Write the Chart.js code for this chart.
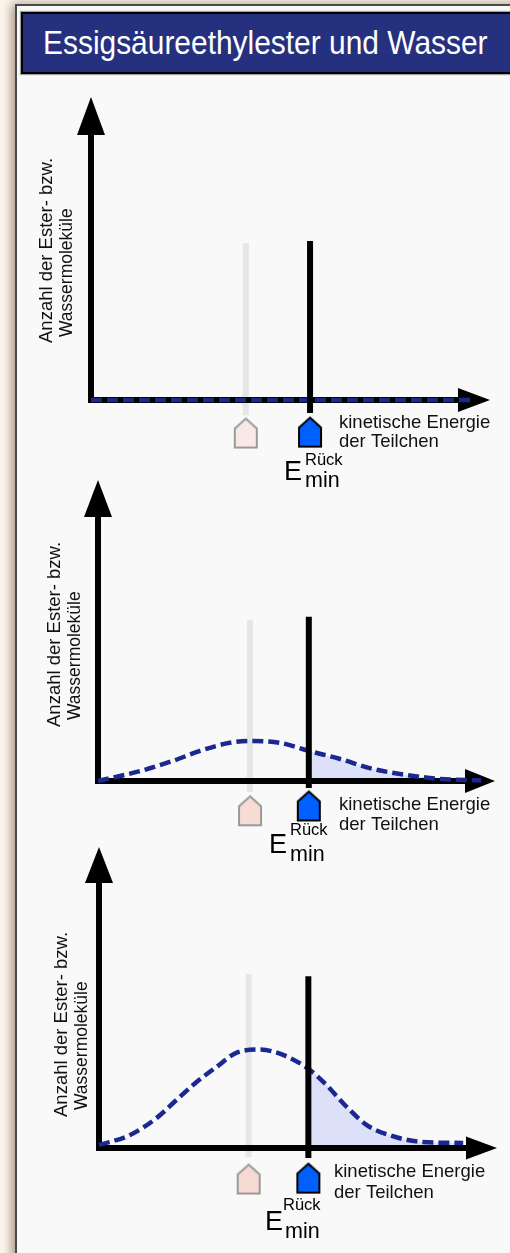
<!DOCTYPE html>
<html>
<head>
<meta charset="utf-8">
<script src="https://cdn.jsdelivr.net/npm/chart.js@4.4.1/dist/chart.umd.min.js"></script>
<style>
  html, body { margin: 0; padding: 0; overflow: hidden; }
  body { width: 510px; height: 1253px; background: #fdf5ec; position: relative;
         font-family: "Liberation Sans", Arial, sans-serif; }
  #panel { position: absolute; left: 15px; top: 4px; width: 600px; height: 1300px; background: #f9f9f9;
           border-left: 2px solid #4a4a4a; border-top: 2px solid #4a4a4a;
           box-shadow: -3px 0 10px rgba(70, 45, 20, 0.5); }
  #title { position: absolute; left: 21px; top: 12px; width: 560px; height: 58px; background: #25317f;
           border: 2px solid #000; box-shadow: 0 0 1px 1px rgba(0, 0, 0, 0.35); }
  #title span { position: absolute; left: 20px; top: 11px; font-size: 34px; line-height: 34px; color: #fff;
                white-space: nowrap; transform: scaleX(0.88); transform-origin: 0 0; }
  canvas { position: absolute; left: 0; top: 0; }
</style>
</head>
<body>
<div id="panel"></div>
<div id="title"><span>Essigsäureethylester und Wasser</span></div>
<canvas id="c1" width="510" height="1253"></canvas>
<canvas id="c2" width="510" height="1253"></canvas>
<canvas id="c3" width="510" height="1253"></canvas>
<script>
// x = kinetische Energie (0 = y-axis, 100 = arrow tip), y = Anzahl (0 = x-axis, 100 = arrow tip)
const energy1 = [0, 95.7];
const count1 = [0, 0];

const energy2 = [0, 10.6, 18.9, 25.7, 33.2, 39, 45.8, 53.1, 61, 69.3, 77.8, 86.1, 96.5];
const count2 = [0, 3.3, 6.7, 10, 12.7, 13.3, 12.7, 10, 7.3, 4, 2, 0.7, 0.2];

const energy3 = [0, 7.8, 14.5, 19.5, 24.6, 29.6, 34.6, 40.4, 46.1, 52.6, 57.1, 62.2, 67.2, 72.9, 81.2, 91.5];
const count3 = [1, 4.3, 10, 16, 22, 27, 31.7, 32.7, 31, 26.3, 21, 13.7, 7.7, 4.3, 2, 1.7];

// threshold energies: faint one (Hin) and E_min Rück, per diagram
const eMinHin = [38.8, 38.3, 37.6];
const eMinRueck = [54.9, 53.1, 52.6];

const yTitle = ['Anzahl der Ester- bzw.', 'Wassermoleküle'];
const xTitle = ['kinetische Energie', 'der Teilchen'];

const FONT = '"Liberation Sans", Arial, sans-serif';
const NAVY = '#1b2890';
const SHADE = '#dce1f9';

// page layout of each diagram (pixels)
const layouts = [
  { originX: 91, axisY: 400, tipX: 490, tipY: 97, yHead: [38, 14], xHead: [32, 12],
    hinLine: [-5, 51.8], rueckLine: [-4.3, 52.5], marker: [-10.9, -10.6], pink: '#f9e8e5',
    yLab: [[47, 343], [67, 337]], xLab: [340, 428, 447],
    emin: { E: [286, 480], R: [306, 465], m: [306, 487] } },
  { originX: 98, axisY: 781, tipX: 495, tipY: 480, yHead: [37, 14], xHead: [30, 12],
    hinLine: [-3.6, 53.6], rueckLine: [-2.3, 54.6], marker: [-9.9, -8.3], pink: '#f7dcd6',
    yLab: [[55, 727], [75, 720]], xLab: [340, 810, 830],
    emin: { E: [271, 853], R: [291, 835], m: [291, 861] } },
  { originX: 99, axisY: 1148, tipX: 498, tipY: 847, yHead: [36, 14], xHead: [31, 11.5],
    hinLine: [-3, 57.8], rueckLine: [-3.3, 57.1], marker: [-10.3, -10], pink: '#f7d9d3',
    yLab: [[62, 1117], [82, 1110]], xLab: [335, 1177, 1198],
    emin: { E: [267, 1230], R: [284, 1210], m: [286, 1238] } }
];

// little house shaped marker below the x-axis
function house(fill, stroke) {
  const c = document.createElement('canvas');
  c.width = 26; c.height = 33;
  const g = c.getContext('2d');
  g.beginPath();
  g.moveTo(13, 2); g.lineTo(24, 12); g.lineTo(24, 31); g.lineTo(2, 31); g.lineTo(2, 12);
  g.closePath();
  g.fillStyle = fill; g.fill();
  g.lineWidth = 2; g.strokeStyle = stroke; g.stroke();
  return c;
}

function drawAxes(chart, L) {
  const { ctx, scales: { x, y } } = chart;
  const x0 = x.getPixelForValue(0), y0 = y.getPixelForValue(0);
  const xt = x.getPixelForValue(100), yt = y.getPixelForValue(100);
  ctx.save();
  ctx.strokeStyle = '#000';
  ctx.lineWidth = 6;
  ctx.beginPath();
  ctx.moveTo(x0, y0 + 3); ctx.lineTo(x0, yt + L.yHead[0] - 1);
  ctx.moveTo(x0 - 3, y0); ctx.lineTo(xt - L.xHead[0] + 1, y0);
  ctx.stroke();
  ctx.fillStyle = '#000';
  ctx.beginPath();
  ctx.moveTo(x0, yt); ctx.lineTo(x0 + L.yHead[1], yt + L.yHead[0]); ctx.lineTo(x0 - L.yHead[1], yt + L.yHead[0]);
  ctx.closePath(); ctx.fill();
  ctx.beginPath();
  ctx.moveTo(xt, y0); ctx.lineTo(xt - L.xHead[0], y0 - L.xHead[1]); ctx.lineTo(xt - L.xHead[0], y0 + L.xHead[1]);
  ctx.closePath(); ctx.fill();
  ctx.restore();
}

function drawLabels(chart, L) {
  const ctx = chart.ctx;
  ctx.save();
  ctx.fillStyle = '#111';
  // rotated y-axis title
  ctx.textBaseline = 'middle';
  ctx.textAlign = 'left';
  yTitle.forEach((s, i) => {
    ctx.save();
    ctx.translate(L.yLab[i][0], L.yLab[i][1]);
    ctx.rotate(-Math.PI / 2);
    ctx.font = (i === 0 ? 18.5 : 17.5) + 'px ' + FONT;
    ctx.fillText(s, 0, 0);
    ctx.restore();
  });
  // x-axis title
  ctx.textBaseline = 'alphabetic';
  ctx.font = '18.5px ' + FONT;
  ctx.fillText(xTitle[0], L.xLab[0] - 1, L.xLab[1]);
  ctx.fillText(xTitle[1], L.xLab[0] - 1, L.xLab[2]);
  // E_min^Rück
  ctx.fillStyle = '#000';
  ctx.font = '27px ' + FONT;
  ctx.fillText('E', L.emin.E[0] - 2, L.emin.E[1]);
  ctx.font = '16.5px ' + FONT;
  ctx.fillText('Rück', L.emin.R[0] - 1, L.emin.R[1]);
  ctx.font = '21.5px ' + FONT;
  ctx.fillText('min', L.emin.m[0] - 1, L.emin.m[1]);
  ctx.restore();
}

const sketchPlugin = {
  id: 'sketch',
  afterDatasetDraw(chart, args) {
    if (chart.data.datasets[args.index].label === 'hin') drawAxes(chart, chart.$layout);
  },
  afterDraw(chart) {
    drawLabels(chart, chart.$layout);
  }
};

function buildChart(id, energy, count, hin, rueck, L) {
  const yUnit = (L.axisY - L.tipY) / 100;
  const pts = energy.map((e, k) => ({ x: e, y: count[k] }));
  const chart = new Chart(document.getElementById(id), {
    type: 'line',
    data: {
      datasets: [
        { label: 'E_min Rück', data: [{ x: rueck, y: L.marker[1] }], pointStyle: house('#005fff', '#000'),
          pointRadius: 12, showLine: false, clip: false, order: 0 },
        { label: 'E_min Hin', data: [{ x: hin, y: L.marker[0] }], pointStyle: house(L.pink, '#9a9a9a'),
          pointRadius: 12, showLine: false, clip: false, order: 0 },
        { label: 'rueck', data: [{ x: rueck, y: L.rueckLine[0] }, { x: rueck, y: L.rueckLine[1] }],
          borderColor: '#000', borderWidth: 6, pointRadius: 0, clip: false, order: 1 },
        { label: 'curve', data: pts, borderColor: NAVY, borderWidth: 4.5, borderDash: [11, 5],
          cubicInterpolationMode: 'monotone', pointRadius: 0, fill: false, clip: false, order: 2 },
        { label: 'hin', data: [{ x: hin, y: L.hinLine[0] }, { x: hin, y: L.hinLine[1] }],
          borderColor: '#e6e6e6', borderWidth: 6, pointRadius: 0, clip: false, order: 3 },
        { label: 'fill', data: pts, borderWidth: 0, borderColor: 'rgba(0,0,0,0)', backgroundColor: 'rgba(0,0,0,0)',
          cubicInterpolationMode: 'monotone', pointRadius: 0, fill: 'origin', clip: false, order: 4,
          segment: { backgroundColor: c => c.p0.parsed.x >= rueck - 1e-6 ? SHADE : 'rgba(0,0,0,0)' } }
      ]
    },
    options: {
      responsive: false,
      animation: false,
      devicePixelRatio: 1,
      events: [],
      layout: { padding: { left: L.originX, right: 510 - L.tipX, top: L.tipY,
                           bottom: 1253 - (L.axisY + 15 * yUnit) } },
      scales: {
        x: { type: 'linear', min: 0, max: 100, display: false },
        y: { type: 'linear', min: -15, max: 100, display: false }
      },
      plugins: { legend: { display: false }, tooltip: { enabled: false }, title: { display: false } }
    },
    plugins: [{ id: 'layoutRef', beforeInit(c) { c.$layout = L; } }, sketchPlugin]
  });
  return chart;
}

buildChart('c1', energy1, count1, eMinHin[0], eMinRueck[0], layouts[0]);
buildChart('c2', energy2, count2, eMinHin[1], eMinRueck[1], layouts[1]);
buildChart('c3', energy3, count3, eMinHin[2], eMinRueck[2], layouts[2]);
</script>
</body>
</html>
